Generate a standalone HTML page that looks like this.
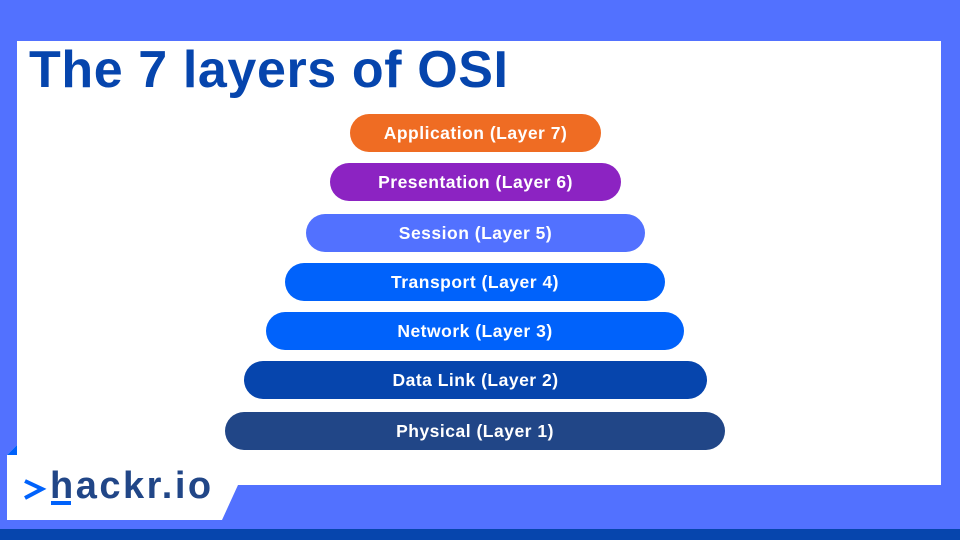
<!DOCTYPE html>
<html><head><meta charset="utf-8"><style>
*{margin:0;padding:0;box-sizing:border-box}
body{width:960px;height:540px;background:#5271ff;position:relative;overflow:hidden;font-family:"Liberation Sans",sans-serif}
.panel{position:absolute;left:17px;top:41px;width:924px;height:444px;background:#fff}
.bar{position:absolute;left:0;top:529px;width:960px;height:11px;background:#0645ad}
h1{position:absolute;left:29px;top:40px;font-size:52px;font-weight:bold;color:#0645ad;letter-spacing:0.6px;line-height:60px;white-space:nowrap}
.p{position:absolute;height:38px;border-radius:19px;color:#fff;font-weight:bold;font-size:17.5px;line-height:38px;text-align:center;letter-spacing:0.5px;white-space:nowrap}
.logo{position:absolute;left:0;top:0}
</style></head><body>
<div class="panel"></div>
<div class="bar"></div>
<h1>The 7 layers of OSI</h1>
<div class="p" style="left:350px;top:114px;width:251px;background:#ef6c23">Application (Layer 7)</div>
<div class="p" style="left:330px;top:163px;width:291px;background:#8c23c2">Presentation (Layer 6)</div>
<div class="p" style="left:306px;top:214px;width:339px;background:#5271ff">Session (Layer 5)</div>
<div class="p" style="left:285px;top:263px;width:380px;background:#0062fb">Transport (Layer 4)</div>
<div class="p" style="left:266px;top:312px;width:418px;background:#0062fb">Network (Layer 3)</div>
<div class="p" style="left:244px;top:361px;width:463px;background:#0645ad">Data Link (Layer 2)</div>
<div class="p" style="left:225px;top:412px;width:500px;background:#214687">Physical (Layer 1)</div>
<svg class="logo" width="960" height="540">
<polygon points="7,455 17,445 17,485 238,485 222,520 7,520" fill="#fff"/>
<polygon points="7,455 17,445 17,455" fill="#0062fb"/>
<polyline points="25,481 42,489 25,498" fill="none" stroke="#0062fb" stroke-width="4"/>
<text x="50" y="498" font-family="Liberation Sans, sans-serif" font-size="38" font-weight="bold" fill="#214687" letter-spacing="2.5">hackr.io</text>
<rect x="51" y="501" width="20" height="4" fill="#0062fb"/>
</svg>
</body></html>
